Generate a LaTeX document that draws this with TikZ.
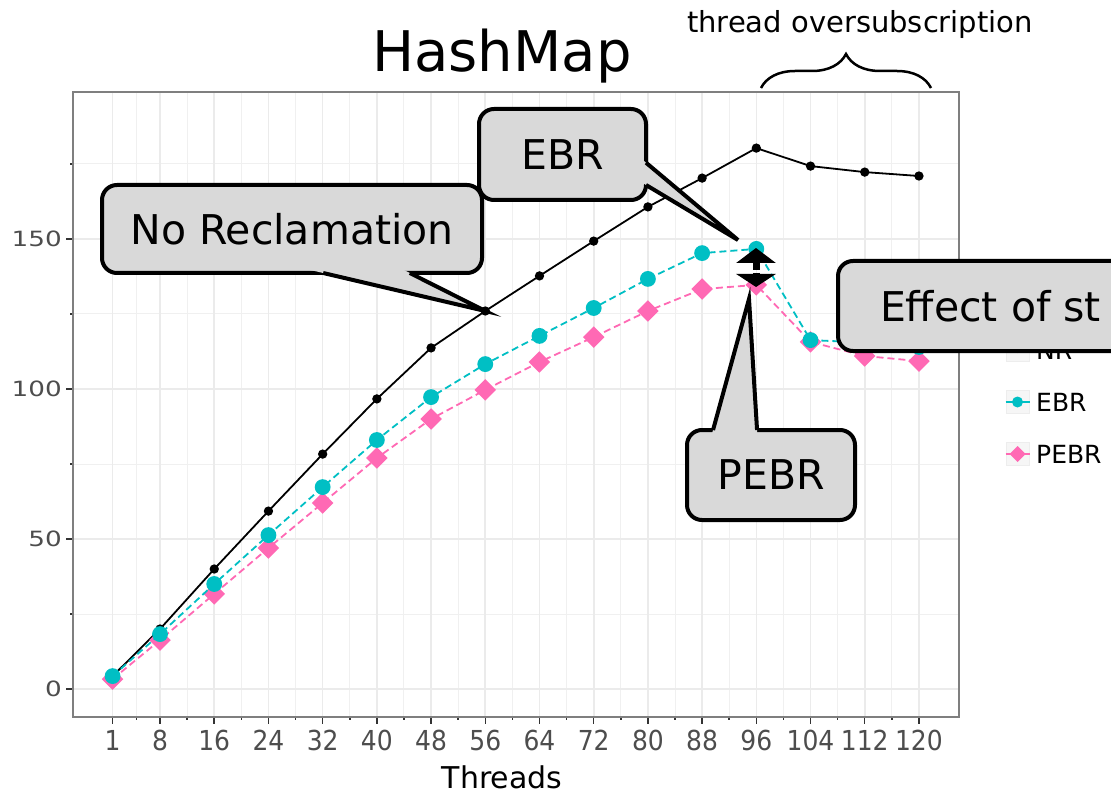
\documentclass[tikz,border=0pt]{standalone}
\usepackage{fontspec}
\setmainfont{DejaVu Sans}
\usetikzlibrary{arrows.meta, calc, decorations.pathreplacing, plotmarks}
\definecolor{ebrcyan}{HTML}{00BFC4}
\definecolor{pebrpink}{HTML}{FF69B4}
\definecolor{calloutgray}{HTML}{D9D9D9}
\definecolor{gridgray}{HTML}{EBEBEB}
\definecolor{axisgray}{HTML}{4D4D4D}
\definecolor{bordergray}{HTML}{7F7F7F}
\definecolor{tickgray}{HTML}{333333}

\begin{document}
\begin{tikzpicture}[
  x=1pt, y=-1pt,
  callbox/.style={
    draw=black, line width=4pt, fill=calloutgray,
    rounded corners=15pt, inner sep=0pt, outer sep=0pt,
    font=\fontsize{41}{48}\selectfont
  },
  tailside/.style={draw=black, line width=4pt},
  majorgrid/.style={gridgray, line width=1.6pt},
  minorgrid/.style={gridgray!75, line width=1pt},
  tickmark/.style={tickgray, line width=1.5pt},
  xticklab/.style={text=axisgray, inner sep=0pt, font=\fontsize{25}{30}\selectfont},
  yticklab/.style={text=axisgray, inner sep=0pt, anchor=east, font=\fontsize{21}{25}\selectfont},
  nrline/.style={black, line width=1.8pt, mark=*, mark size=3.7pt},
  ebrline/.style={ebrcyan, line width=1.8pt, dash pattern=on 7pt off 4pt,
    mark=*, mark size=7pt, mark options={solid, fill=ebrcyan}},
  pebrline/.style={pebrpink, line width=1.8pt, dash pattern=on 7pt off 4pt,
    mark=square*, mark size=6.7pt, mark options={solid, rotate=45, fill=pebrpink}},
  keybox/.style={fill=gray!7, draw=gray!14, line width=1pt, minimum size=23pt, inner sep=0pt},
  leglab/.style={anchor=west, inner sep=0pt, font=\fontsize{25}{30}\selectfont},
  gaparrow/.style={line width=7pt, -{Triangle[width=39pt, length=15pt]}}
]
  \useasboundingbox (0,0) rectangle (1111,794);
  \clip (0,0) rectangle (1111,794);
  \fill[white] (0,0) rectangle (1111,794);

  % panel, in threads / throughput units
  \begin{scope}[shift={(105.824,689)}, x=6.776pt, y=3pt]
    \foreach \t in {4.5,12,20,...,116}
      \draw[minorgrid] (\t,-9.33) -- (\t,199);
    \foreach \v in {25,75,...,175}
      \draw[minorgrid] (-4.84,\v) -- (125.9,\v);
    \foreach \t in {1,8,16,...,120}
      \draw[majorgrid] (\t,-9.33) -- (\t,199);
    \foreach \v in {0,50,100,150}
      \draw[majorgrid] (-4.84,\v) -- (125.9,\v);

    % ticks and labels
    \foreach \t in {1,8,16,...,120} {
      \draw[tickmark] (\t,-9.33) -- ++(0pt,-7pt);
      \node[xticklab] (xt\t) at (\t,-17) {\scalebox{1}[1.1]{\t}};
    }
    \foreach \t in {4.5,12,20,...,116}
      \draw[tickmark] (\t,-9.33) -- ++(0pt,-3pt);
    \foreach \v in {0,50,100,150} {
      \draw[tickmark] (-4.84,\v) -- ++(-7pt,0pt);
      \node[yticklab] (yt\v) at (-6.47,\v) {\scalebox{1.25}[1]{\v}};
    }
    \foreach \v in {25,75,...,175}
      \draw[tickmark] (-4.84,\v) -- ++(-3pt,0pt);

    % series
    \draw[nrline] plot coordinates {(1,4.3) (8,20) (16,40) (24,59.3) (32,78.3)
      (40,96.7) (48,113.7) (56,126) (64,137.7) (72,149.3) (80,160.7) (88,170.3)
      (96,180.3) (104,174.3) (112,172.3) (120,171)};
    \draw[pebrline] plot coordinates {(1,3.3) (8,16.3) (16,31.7) (24,47) (32,62)
      (40,77) (48,90) (56,99.7) (64,109) (72,117.3) (80,126) (88,133.3)
      (96,134.7) (104,115.7) (112,111) (120,109.3)};
    \draw[ebrline] plot coordinates {(1,4.3) (8,18.3) (16,35) (24,51.3) (32,67.3)
      (40,83) (48,97.3) (56,108.3) (64,117.7) (72,127) (80,136.7) (88,145.3)
      (96,146.7) (104,116.3) (112,115.5) (120,114)};

    \coordinate (nr56) at (56,126);
  \end{scope}
  \draw[bordergray, line width=2pt] (73,92) rectangle (959,717);

  % titles
  \node[anchor=base, inner sep=0pt, font=\fontsize{56}{64}\selectfont] (title) at (502,72) {HashMap};
  \node[inner sep=0pt, text=black, font=\fontsize{30}{36}\selectfont] (threadslab) at (502,777) {Threads};
  \node[anchor=base, inner sep=0pt, font=\fontsize{29}{34}\selectfont] (oversub) at (860,33) {thread oversubscription};
  \coordinate (bracel) at (761,88);
  \coordinate (bracer) at (931,88);
  \draw[decorate, decoration={brace, amplitude=34pt}, line width=2.5pt] (bracel) -- (bracer);

  % legend
  \node[keybox] (nrkey) at (1017.5,350) {};
  \draw[black, line width=1.5pt] (nrkey.west) -- (nrkey.east);
  \fill[black] (nrkey.center) circle (3pt);
  \node[leglab] (nrlab) at (1036,350) {NR};
  \node[keybox] (ebrkey) at (1017.5,402) {};
  \draw[ebrcyan, line width=1.5pt] (ebrkey.west) -- (ebrkey.east);
  \fill[ebrcyan] (ebrkey.center) circle (5.5pt);
  \node[leglab] (ebrlab) at (1036,402) {EBR};
  \node[keybox] (pebrkey) at (1017.5,454) {};
  \draw[pebrpink, line width=1.5pt] (pebrkey.west) -- (pebrkey.east);
  \fill[pebrpink] ($(pebrkey.center)+(0,-8)$) -- ++(8,8) -- ++(-8,8) -- ++(-8,-8) -- cycle;
  \node[leglab] (pebrlab) at (1036,454) {PEBR};

  % gap between EBR and PEBR
  \coordinate (uptip) at (756,248);
  \coordinate (upbase) at (756,270);
  \coordinate (downbase) at (756,273);
  \coordinate (downtip) at (756,287);
  \draw[gaparrow] (upbase) -- (uptip);
  \draw[line width=7pt, -{Triangle[width=39pt, length=13pt]}] (downbase) -- (downtip);

  % callouts
  \node[callbox, minimum width=167pt, minimum height=91pt] (ebrbox) at (562.5,154.5) {EBR};
  \coordinate (ebrtip) at (738,240);
  \coordinate (ebrb1) at ($(ebrbox.north east)!0.59!(ebrbox.south east)$);
  \coordinate (ebrb2) at ($(ebrbox.north east)!0.835!(ebrbox.south east)$);
  \fill[calloutgray] ($(ebrtip)!1.12!(ebrb1)$) -- (ebrtip) -- ($(ebrtip)!1.12!(ebrb2)$) -- cycle;
  \draw[tailside] (ebrb1) -- (ebrtip) -- (ebrb2);

  \node[callbox, minimum width=380pt, minimum height=88pt] (nrbox) at (292,229) {No Reclamation};
  \coordinate (nrb1) at ($(nrbox.south west)!0.582!(nrbox.south east)$);
  \coordinate (nrb2) at ($(nrbox.south west)!0.81!(nrbox.south east)$);
  \fill[calloutgray] ($(nr56)!1.2!(nrb1)$) -- (nr56) -- ($(nr56)!1.2!(nrb2)$) -- cycle;
  \draw[tailside] (nrb1) -- (nr56) -- (nrb2);

  \node[callbox, minimum width=168pt, minimum height=90pt] (pebrbox) at (771,475) {PEBR};
  \coordinate (pebrtip) at (749,299);
  \coordinate (pebrb1) at ($(pebrbox.north west)!0.155!(pebrbox.north east)$);
  \coordinate (pebrb2) at ($(pebrbox.north west)!0.417!(pebrbox.north east)$);
  \fill[calloutgray] ($(pebrtip)!1.08!(pebrb1)$) -- (pebrtip) -- ($(pebrtip)!1.08!(pebrb2)$) -- cycle;
  \draw[tailside] (pebrb1) -- (pebrtip) -- (pebrb2);

  \node[callbox, anchor=west, inner xsep=42pt, minimum height=90pt] (stallbox) at (838,306) {Effect of st};
\end{tikzpicture}
\end{document}
